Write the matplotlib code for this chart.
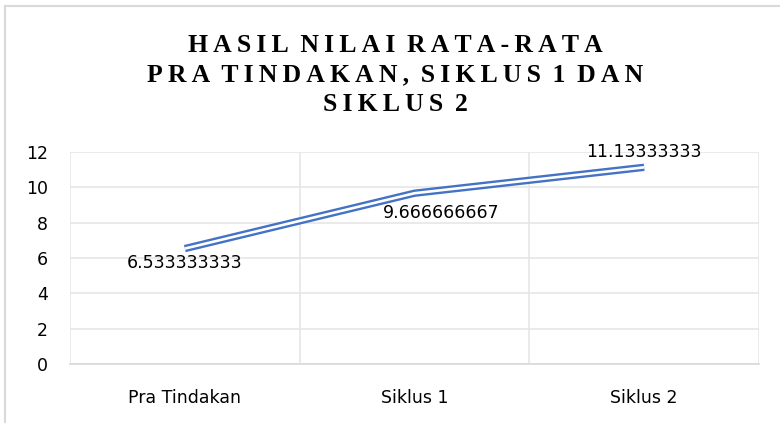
"""Grafik hasil nilai rata-rata: pra tindakan, siklus 1, siklus 2"""
import matplotlib
matplotlib.use("Agg")
import matplotlib.pyplot as plt
from matplotlib.lines import Line2D
import numpy as np

# =============================================
#  Data
# =============================================
kategori = ["Pra Tindakan", "Siklus 1", "Siklus 2"]
nilai = [6.533333333, 9.666666667, 11.13333333]
label_nilai = ["6.533333333", "9.666666667", "11.13333333"]
y_ticks = [0, 2, 4, 6, 8, 10, 12]

judul_baris = ["HASIL NILAI RATA-RATA", "PRA TINDAKAN, SIKLUS 1 DAN", "SIKLUS 2"]

BIRU = "#4472C4"
GRID = "#e6e6e6"

# =============================================
#  Gambar
# =============================================
fig = plt.figure(figsize=(7.8, 4.23), dpi=100)
fig.patch.set_facecolor("white")

# bingkai grafik (kiri & atas)
fig.add_artist(Line2D([5 / 780, 5 / 780], [0, 1 - 6 / 423], color="#d9d9d9", lw=1.5))
fig.add_artist(Line2D([5 / 780, 1], [1 - 6 / 423, 1 - 6 / 423], color="#d9d9d9", lw=1.5))

ax = fig.add_axes([70 / 780, 59 / 423, 689 / 780, 212 / 423])
x = np.arange(len(kategori))

# garis ganda ala Excel
ax.plot(x, nilai, color=BIRU, lw=5.3, solid_joinstyle="miter", solid_capstyle="butt", zorder=3)
ax.plot(x, nilai, color="white", lw=1.9, solid_joinstyle="miter", solid_capstyle="butt", zorder=4)

ax.set_xlim(-0.5, len(kategori) - 0.5)
ax.set_ylim(0, 12)
ax.set_yticks(y_ticks)
ax.set_xticks(x)
ax.set_xticklabels(kategori, fontsize=12.5, family="DejaVu Sans")
ax.tick_params(axis="y", length=0, pad=16, labelsize=12.5)
ax.tick_params(axis="x", length=0, pad=18)

# grid horizontal + vertikal di batas kategori
ax.grid(axis="y", color=GRID, lw=1.2)
ax.set_xticks(np.arange(-0.5, len(kategori)), minor=True)
ax.grid(axis="x", which="minor", color=GRID, lw=1.2)
ax.tick_params(which="minor", length=0)
for s in ["top", "right", "left"]:
    ax.spines[s].set_visible(False)
ax.spines["bottom"].set_color("#d9d9d9")
ax.spines["bottom"].set_linewidth(1.2)

# label data
offset = [(0, -10.5), (19.5, -14.5), (0, 10.8)]
for i, (v, t) in enumerate(zip(nilai, label_nilai)):
    ax.annotate(t, (x[i], v), textcoords="offset points", xytext=offset[i],
                ha="center", va="center", fontsize=12.5, color="black", zorder=5)

# judul dengan jarak huruf lebar (thin space antar huruf)
judul = "\n".join("\u2009 ".join("\u2009".join(kata) for kata in baris.split(" "))
                  for baris in judul_baris)
fig.text(395 / 780, 1 - 75 / 423, judul, ha="center", va="center", fontsize=18.5,
         fontweight="bold", family=["Liberation Serif", "DejaVu Serif"], linespacing=1.38)

fig.savefig("out.png", dpi=100, facecolor="white")
